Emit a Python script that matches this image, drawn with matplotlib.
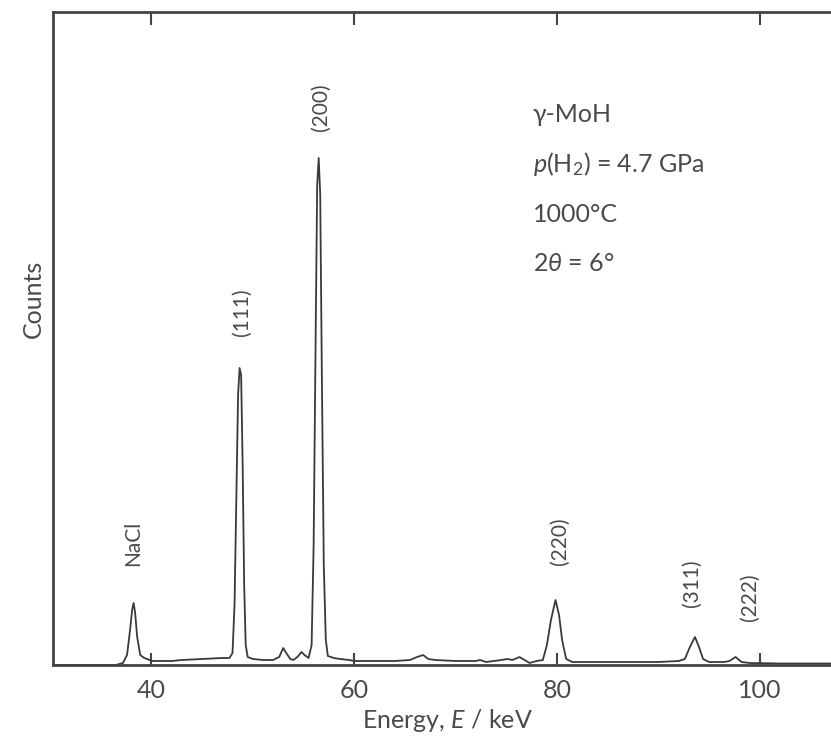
import matplotlib
matplotlib.use('Agg')
import matplotlib.pyplot as plt

plt.rcParams['font.family'] = ['Lato', 'DejaVu Sans']
plt.rcParams['mathtext.fontset'] = 'custom'
plt.rcParams['mathtext.rm'] = 'Lato'
plt.rcParams['mathtext.it'] = 'Lato:italic'

# spectrum trace (energy in keV, counts in arbitrary units)
energy = [30.3, 33.0, 35.0, 36.5, 37.2, 37.6, 37.9, 38.1, 38.25, 38.4, 38.6, 38.9, 39.3, 39.6,
          40.0, 41.0, 42.0, 43.0, 44.0, 45.0, 46.0, 47.0, 47.7, 48.0, 48.2, 48.4, 48.55, 48.7,
          48.85, 49.0, 49.15, 49.3, 49.5, 50.0, 51.0, 52.0, 52.6, 53.0, 53.3, 53.7, 54.0, 54.4,
          54.8, 55.1, 55.5, 55.8, 56.0, 56.2, 56.35, 56.5, 56.65, 56.8, 57.0, 57.2, 57.4, 58.0,
          58.6, 59.5, 60.0, 62.0, 64.0, 65.5, 66.2, 66.8, 67.3, 68.0, 70.0, 72.0, 72.4, 73.0,
          74.5, 75.1, 75.6, 76.3, 76.8, 77.3, 78.0, 78.6, 79.0, 79.4, 79.85, 80.2, 80.5, 80.9,
          81.5, 84.0, 87.0, 90.0, 92.0, 92.6, 93.1, 93.6, 94.0, 94.4, 95.0, 96.5, 97.0, 97.6,
          98.2, 99.0, 102.0, 108.0]
counts = [0, 0, 0, 0, 2, 10, 35, 55, 62, 52, 28, 10, 7, 6,
          4, 4, 4, 5, 5.5, 6, 6.5, 7, 7, 12, 60, 180, 270, 297,
          290, 200, 80, 20, 8, 6, 5, 5, 8, 17, 12, 6, 5, 8,
          13, 10, 7, 20, 120, 330, 480, 507, 470, 300, 100, 25, 9, 7,
          6, 5, 4, 4, 4, 5, 8, 10, 6, 5, 4, 4, 5, 3,
          5, 6, 5, 8, 5, 2, 4, 5, 20, 45, 65, 50, 25, 6,
          3, 3, 3, 3, 4, 6, 18, 28, 18, 6, 3, 3, 4, 8,
          3, 2, 1.5, 1.5]

# reflection labels: text, energy, height of label centre
peak_labels = ['NaCl', '(111)', '(200)', '(220)', '(311)', '(222)']
label_x = [38.2, 48.9, 56.7, 80.3, 93.3, 99.0]
label_y = [122, 353, 558, 124, 82, 68]

info_lines = ['γ-MoH', '$p$(H$_2$) = 4.7 GPa', '1000°C', '2$\\theta$ = 6°']

txt = '#4a4a4a'

fig = plt.figure(figsize=(8.31, 7.45), dpi=100)
ax = fig.add_axes([53 / 831, 80 / 745, 788 / 831, 653 / 745])

ax.plot(energy, counts, color='#3a3a3a', lw=1.3)

ax.set_xlim(30.3, 108)
ax.set_ylim(0, 653)
ax.set_xticks([40, 60, 80, 100])
ax.set_yticks([])
ax.tick_params(axis='x', direction='in', top=True, length=9, width=1.5,
               labelsize=18, labelcolor=txt, color='#444444', pad=10)
for s in ax.spines.values():
    s.set_color('#444444')
    s.set_linewidth(2)

ax.set_xlabel('Energy, $E$ / keV', fontsize=18, color=txt, labelpad=4)
ax.set_ylabel('Counts', fontsize=18, color=txt)
ax.yaxis.set_label_coords(-0.01, 0.56)

for t, x, y in zip(peak_labels, label_x, label_y):
    ax.text(x, y, t, rotation=90, ha='center', va='center', fontsize=15, color=txt)

for i, t in enumerate(info_lines):
    fig.text(533 / 831, 1 - (115 + 49.5 * i) / 745, t, ha='left', va='center',
             fontsize=18, color=txt)

fig.savefig('out.png', dpi=100)
